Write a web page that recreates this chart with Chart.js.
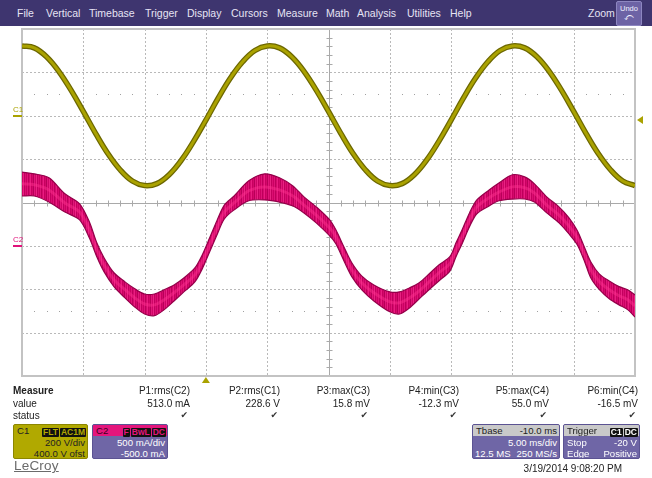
<!DOCTYPE html>
<html>
<head>
<meta charset="utf-8">
<script src="https://cdn.jsdelivr.net/npm/chart.js@4/dist/chart.umd.min.js"></script>
<style>
  body{margin:0;background:#fff;width:652px;height:478px;overflow:hidden;position:relative;
       font-family:"Liberation Sans",Arial,sans-serif;font-size:10px;color:#222;}
  #scope{position:absolute;left:0;top:0;}
  #menu{position:absolute;left:0;top:0;width:652px;height:26px;background:#3e356f;}
  .m{position:absolute;top:7px;color:#e6e4f4;font-size:10.5px;white-space:nowrap;}
  #undo{position:absolute;left:616px;top:1px;width:24px;height:23px;background:#6d63a5;
        border:1px solid #8d86c0;border-radius:2px;color:#f0f0ff;text-align:center;}
  #undo .t{font-size:7.5px;line-height:9px;margin-top:2px;}
  #undo .a{font-size:9px;line-height:9px;font-family:"DejaVu Sans",sans-serif;}
  .abs{position:absolute;white-space:nowrap;}
  .r{text-align:right;}
  .chk{font-family:"DejaVu Sans",sans-serif;font-size:9px;color:#333;}
  .gnd{position:absolute;left:13px;font-size:8px;line-height:8px;white-space:nowrap;}
  .box{position:absolute;top:424px;height:35px;border-radius:2px;overflow:hidden;font-size:9.6px;box-sizing:border-box;}
  .hdr{position:absolute;left:0;top:0;width:100%;height:11px;}
  .badge{display:inline-block;background:#111;font-size:8.5px;font-weight:bold;line-height:9px;
         padding:0 1px;margin-left:1px;border-radius:1px;}
</style>
</head>
<body>
<canvas id="scope" width="652" height="478"></canvas>
<div id="gndC1" class="gnd" style="color:#aaa200">C1</div>
<div id="gndC2" class="gnd" style="color:#e0127a">C2</div>

<div id="menu">
  <span class="m" style="left:17px">File</span>
  <span class="m" style="left:46px">Vertical</span>
  <span class="m" style="left:89px">Timebase</span>
  <span class="m" style="left:145px">Trigger</span>
  <span class="m" style="left:187px">Display</span>
  <span class="m" style="left:231px">Cursors</span>
  <span class="m" style="left:277px">Measure</span>
  <span class="m" style="left:326px">Math</span>
  <span class="m" style="left:357px">Analysis</span>
  <span class="m" style="left:407px">Utilities</span>
  <span class="m" style="left:450px">Help</span>
  <span class="m" style="left:588px">Zoom</span>
  <div id="undo"><div class="t">Undo</div><div class="a">⤺</div></div>
</div>

<div id="measure"></div>

<!-- C1 channel box -->
<div class="box" style="left:13px;width:75px;background:#b1a900;border:1px solid #8c8600;">
  <div class="abs" style="left:3px;top:0px;color:#222">C1</div>
  <div class="abs" style="right:1px;top:1px;color:#b1a900"><span class="badge">FLT</span><span class="badge">AC1M</span></div>
  <div class="abs r" style="right:2px;top:12px;color:#222">200 V/div</div>
  <div class="abs r" style="right:2px;top:23px;color:#222">400.0 V ofst</div>
</div>

<!-- C2 channel box -->
<div class="box" style="left:92px;width:76px;background:#6f66a6;border:1px solid #5b5392;">
  <div class="hdr" style="background:#e4157c"></div>
  <div class="abs" style="left:3px;top:0px;color:#3a0020">C2</div>
  <div class="abs" style="right:1px;top:1px;color:#e4157c"><span class="badge">F</span><span class="badge">BwL</span><span class="badge">DC</span></div>
  <div class="abs r" style="right:2px;top:12px;color:#fff">500 mA/div</div>
  <div class="abs r" style="right:2px;top:23px;color:#fff">-500.0 mA</div>
</div>

<!-- Timebase box -->
<div class="box" style="left:472px;width:88px;background:#6f66a6;border:1px solid #5b5392;">
  <div class="hdr" style="background:#c9c9c9"></div>
  <div class="abs" style="left:3px;top:0px;color:#222">Tbase</div>
  <div class="abs r" style="right:2px;top:0px;color:#222">-10.0 ms</div>
  <div class="abs r" style="right:2px;top:12px;color:#fff">5.00 ms/div</div>
  <div class="abs" style="left:2px;top:23px;color:#fff">12.5 MS</div>
  <div class="abs r" style="right:2px;top:23px;color:#fff">250 MS/s</div>
</div>

<!-- Trigger box -->
<div class="box" style="left:563px;width:77px;background:#6f66a6;border:1px solid #5b5392;">
  <div class="hdr" style="background:#c9c9c9"></div>
  <div class="abs" style="left:3px;top:0px;color:#222">Trigger</div>
  <div class="abs" style="right:1px;top:1px;color:#fff"><span class="badge">C1</span><span class="badge">DC</span></div>
  <div class="abs" style="left:3px;top:12px;color:#fff">Stop</div>
  <div class="abs r" style="right:2px;top:12px;color:#fff">-20 V</div>
  <div class="abs" style="left:3px;top:23px;color:#fff">Edge</div>
  <div class="abs r" style="right:2px;top:23px;color:#fff">Positive</div>
</div>

<div class="abs" style="left:14px;top:458px;font-size:13.5px;color:#6b6b6b;text-decoration:underline;letter-spacing:0.2px">LeCroy</div>
<div class="abs r" style="right:30px;top:463px;color:#222">3/19/2014 9:08:20 PM</div>

<script>
// Time axis in ms relative to the trigger point
const timeMin = -15, timeMax = 35;
const trigTime = 0;          // trigger position (ms)
const trigLevel = -20;       // trigger level on C1 (V)

// C1: line voltage (V), sampled every 1 ms
const c1Time = [-15,-14,-13,-12,-11,-10,-9,-8,-7,-6,-5,-4,-3,-2,-1,0,1,2,3,4,5,6,7,8,9,10,
                11,12,13,14,15,16,17,18,19,20,21,22,23,24,25,26,27,28,29,30,31,32,33,34,35];
const c1Volts = [322,313,272,205,118,20,-81,-174,-249,-301,-322,-313,-272,-205,-118,-20,81,174,249,301,322,
                 313,272,205,118,20,-81,-174,-249,-301,-322,-313,-272,-205,-118,-20,81,174,249,301,322,
                 313,272,205,118,20,-81,-174,-249,-301,-322];

// C2: line current (mA) — noisy trace, upper/lower envelope and centre
const c2Time = [-15.0,-14.0,-12.8,-11.5,-10.3,-9.5,-8.9,-8.3,-7.5,-6.6,-5.8,-5.0,-4.2,-3.4,-2.6,-1.8,-0.9,-0.3,
                0.3,0.9,1.5,2.3,3.5,4.8,6.0,7.1,8.0,9.0,10.1,10.6,11.3,11.9,12.7,13.7,15.0,15.8,16.6,17.4,18.2,
                19.0,19.9,20.4,20.9,21.5,22.1,23.1,23.9,25.0,26.0,26.8,27.8,28.8,29.6,30.3,30.9,31.4,32.1,32.9,
                33.7,34.4,35.0];
const c2High = [850,830,785,600,485,275,35,-140,-310,-415,-495,-555,-555,-505,-450,-370,-255,-105,
                90,290,470,575,750,830,785,690,565,450,300,185,-25,-195,-345,-450,-530,-530,-485,-425,-325,
                -220,-125,35,185,380,530,645,725,820,795,715,565,450,325,175,-25,-185,-325,-405,
                -470,-505,-565];
const c2Low  = [575,575,505,390,300,90,-125,-300,-470,-600,-705,-785,-805,-735,-635,-530,-415,-265,
                -70,125,310,415,520,530,505,460,380,265,115,25,-185,-355,-505,-635,-760,-785,-715,-610,-505,
                -405,-290,-125,25,220,370,460,520,540,540,505,380,265,140,10,-185,-370,-505,-610,
                -680,-735,-820];
const c2Mid  = [715,705,645,495,390,185,-45,-220,-390,-505,-600,-670,-680,-620,-540,-450,-335,-185,
                10,205,390,495,635,680,645,575,470,355,205,105,-105,-275,-425,-540,-645,-655,-600,-520,-415,
                -310,-205,-45,105,300,450,555,620,680,670,610,470,355,230,90,-105,-275,-415,-505,
                -575,-620,-690];

// Measurement table
const measNames  = ['P1:rms(C2)','P2:rms(C1)','P3:max(C3)','P4:min(C3)','P5:max(C4)','P6:min(C4)'];
const measValues = ['513.0 mA','228.6 V','15.8 mV','-12.3 mV','55.0 mV','-16.5 mV'];

// Vertical settings: units/div and offsets define each channel's range over 8 divisions
const c1PerDiv = 200, c1Offset = 400;
const c2PerDiv = 500, c2Offset = -500;

const C1_COLOR = '#aaa200', C1_DARK = '#6c6700';
const C2_COLOR = '#e0127a', C2_DARK = '#94004a';

(function buildMeasure(){
  const host = document.getElementById('measure');
  const rights = [190,280,370,459,549,638];
  let html = '<div class="abs" style="left:13px;top:385px;font-weight:bold">Measure</div>'+
             '<div class="abs" style="left:13px;top:398px">value</div>'+
             '<div class="abs" style="left:13px;top:410px">status</div>';
  measNames.forEach((n,i)=>{
    const r = 652 - rights[i];
    html += `<div class="abs r" style="right:${r}px;top:385px">${n}</div>`;
    html += `<div class="abs r" style="right:${r}px;top:398px">${measValues[i]}</div>`;
    html += `<div class="abs r chk" style="right:${r+2}px;top:410px">✔</div>`;
  });
  host.innerHTML = html;
})();

// Grainy fill for the noisy current trace: fixed column shading
function traceTexture(ctx){
  const c = document.createElement('canvas');
  c.width = 13; c.height = 3;
  const g = c.getContext('2d');
  const cols = ['#cc0062','#de1477','#bd005b','#d60a6d','#e81d80','#c80060','#d4086b',
                '#b80058','#e0177a','#cf0567','#e92383','#c3005e','#da0f72'];
  cols.forEach((col,i)=>{ g.fillStyle = col; g.fillRect(i,0,1,3); });
  return ctx.createPattern(c,'repeat');
}

// Graticule: dotted divisions, solid centre cross with minor ticks, frame
const graticule = {
  id:'graticule',
  beforeDatasetsDraw(chart){
    const {ctx, chartArea:a} = chart;
    const dx = (a.right-a.left)/10, dy = (a.bottom-a.top)/8;
    ctx.save();
    ctx.lineWidth = 1;
    ctx.strokeStyle = '#b9b9b9';
    ctx.setLineDash([2,2]);
    for(let i=1;i<10;i++){
      if(i===5) continue;
      const x = Math.round(a.left+i*dx)+0.5;
      ctx.beginPath(); ctx.moveTo(x,a.top); ctx.lineTo(x,a.bottom); ctx.stroke();
    }
    for(let j=1;j<8;j++){
      if(j===4) continue;
      const y = Math.round(a.top+j*dy)+0.5;
      ctx.beginPath(); ctx.moveTo(a.left,y); ctx.lineTo(a.right,y); ctx.stroke();
    }
    ctx.setLineDash([]);
    ctx.strokeStyle = '#a9a9a9';
    const cx = Math.round(a.left+5*dx)+0.5, cy = Math.round(a.top+4*dy)+0.5;
    ctx.beginPath(); ctx.moveTo(cx,a.top); ctx.lineTo(cx,a.bottom);
    ctx.moveTo(a.left,cy); ctx.lineTo(a.right,cy); ctx.stroke();
    ctx.beginPath();
    for(let k=1;k<50;k++){
      if(k%5===0) continue;
      const x = Math.round(a.left+k*dx/5)+0.5;
      ctx.moveTo(x,cy-3); ctx.lineTo(x,cy+3);
    }
    for(let k=1;k<40;k++){
      if(k%5===0) continue;
      const y = Math.round(a.top+k*dy/5)+0.5;
      ctx.moveTo(cx-3,y); ctx.lineTo(cx+3,y);
    }
    ctx.stroke();
    // dotted rows at +/- 2.5 divisions
    ctx.fillStyle = '#a0a0a0';
    [a.top+1.5*dy, a.top+6.5*dy].forEach(y=>{
      for(let k=1;k<50;k++){
        if(k%5===0) continue;
        const x = Math.round(a.left+k*dx/5);
        ctx.fillRect(x, Math.round(y), 1, 1);
      }
    });
    ctx.strokeStyle = '#c3c3c3';
    ctx.lineWidth = 2;
    ctx.strokeRect(a.left, a.top, a.right-a.left, a.bottom-a.top);
    ctx.restore();
  },
  afterDatasetsDraw(chart){
    const {ctx, chartArea:a, scales} = chart;
    ctx.save();
    // channel ground markers
    const y1 = Math.round(scales.yC1.getPixelForValue(0));
    ctx.fillStyle = C1_COLOR;
    ctx.fillRect(13, y1-1, 9, 2);
    document.getElementById('gndC1').style.top = (y1-10)+'px';
    const y2 = Math.round(scales.yC2.getPixelForValue(0));
    ctx.fillStyle = C2_COLOR;
    ctx.fillRect(13, y2-1, 9, 2);
    document.getElementById('gndC2').style.top = (y2-10)+'px';
    // trigger level marker (right edge)
    const yt = scales.yC1.getPixelForValue(trigLevel);
    ctx.fillStyle = C1_COLOR;
    ctx.beginPath(); ctx.moveTo(a.right+2, yt); ctx.lineTo(a.right+8, yt-4); ctx.lineTo(a.right+8, yt+4); ctx.closePath(); ctx.fill();
    // trigger time marker (below grid)
    const xt = scales.x.getPixelForValue(trigTime);
    ctx.beginPath(); ctx.moveTo(xt, a.bottom+1); ctx.lineTo(xt-4, a.bottom+7); ctx.lineTo(xt+4, a.bottom+7); ctx.closePath(); ctx.fill();
    ctx.restore();
  }
};

const pts = (xs, ys) => xs.map((x,i)=>({x, y: ys[i]}));
const canvas = document.getElementById('scope');
const texture = traceTexture(canvas.getContext('2d'));

new Chart(canvas, {
  type:'line',
  data:{
    datasets:[
      { data: pts(c2Time,c2High), yAxisID:'yC2', borderColor:C2_DARK, borderWidth:1.2,
        backgroundColor:texture, fill:'+1', tension:0.3, order:5 },
      { data: pts(c2Time,c2Low), yAxisID:'yC2', borderColor:C2_DARK, borderWidth:1.2,
        fill:false, tension:0.3, order:4 },
      { data: pts(c2Time,c2Mid), yAxisID:'yC2', borderColor:'rgba(255,50,145,0.45)', borderWidth:3,
        fill:false, tension:0.3, order:3 },
      { data: pts(c1Time,c1Volts), yAxisID:'yC1', borderColor:C1_DARK, borderWidth:5.5,
        fill:false, tension:0.4, order:2 },
      { data: pts(c1Time,c1Volts), yAxisID:'yC1', borderColor:C1_COLOR, borderWidth:3,
        fill:false, tension:0.4, order:1 }
    ]
  },
  options:{
    responsive:false, animation:false, devicePixelRatio:1,
    layout:{ padding:{ left:22, right:17, top:29, bottom:102 } },
    elements:{ point:{ radius:0 } },
    plugins:{ legend:{display:false}, tooltip:{enabled:false} },
    scales:{
      x:{ type:'linear', min:timeMin, max:timeMax, display:false },
      yC1:{ type:'linear', display:false,
            min: -c1Offset - 4*c1PerDiv, max: -c1Offset + 4*c1PerDiv },
      yC2:{ type:'linear', display:false,
            min: -c2Offset - 4*c2PerDiv, max: -c2Offset + 4*c2PerDiv }
    }
  },
  plugins:[graticule]
});
</script>
</body>
</html>
